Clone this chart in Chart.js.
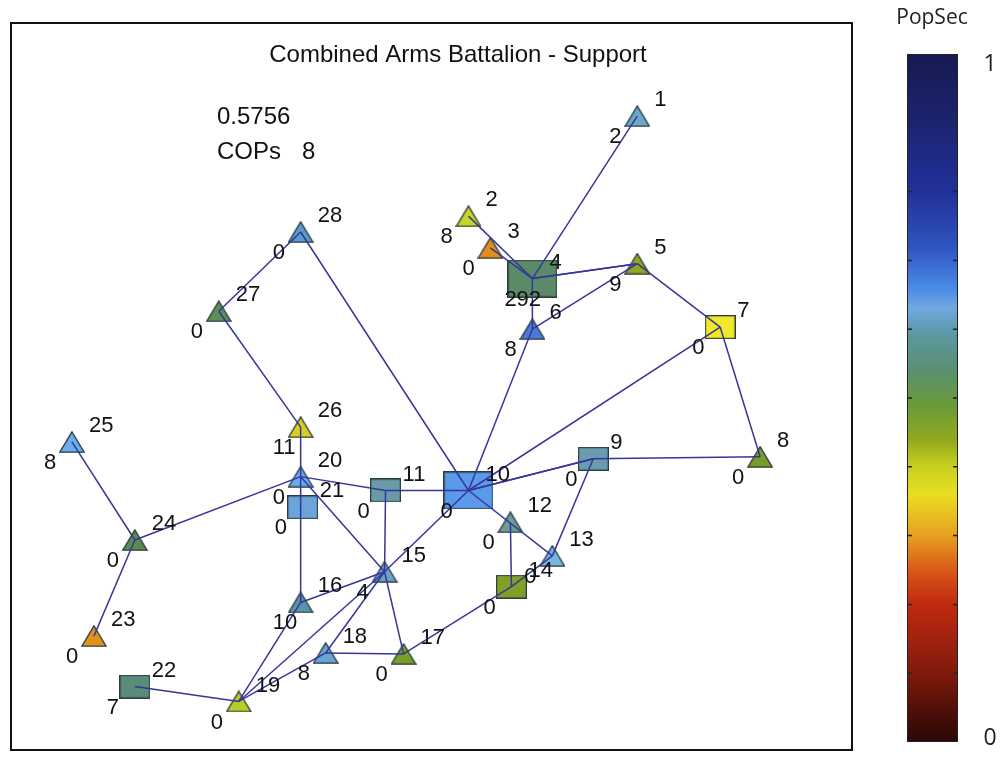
<!DOCTYPE html>
<html>
<head>
<meta charset="utf-8">
<script src="https://cdn.jsdelivr.net/npm/chart.js@4.4.1/dist/chart.umd.min.js"></script>
<style>
  body { margin: 0; background: #fff; }
  canvas { display: block; }
</style>
</head>
<body>
<canvas id="netChart" width="1002" height="761"></canvas>
<script>
// Node data (layout coordinates, y measured downward)
const nodeIds = [1, 2, 3, 4, 5, 6, 7, 8, 9, 10, 11, 12, 13, 14, 15, 16, 17, 18, 19, 20, 21, 22, 23, 24, 25, 26, 27, 28];
const nodeX = [627, 458, 480, 522, 627, 522, 710, 750, 583, 458, 375, 500, 542, 501, 374, 290, 393, 315, 228, 290, 292, 124, 83, 124, 61, 290, 208, 290];
const nodeY = [94, 195, 227, 258, 243, 309, 307, 438, 440, 472, 472, 504, 538, 569, 554, 585, 637, 636, 685, 458, 489, 670, 619, 522, 423, 408, 291, 211];
const nodeKind = ['tri', 'tri', 'tri', 'big', 'tri', 'tri', 'sq', 'tri', 'sq', 'big', 'sq', 'tri', 'tri', 'sq', 'tri', 'tri', 'tri', 'tri', 'tri', 'tri', 'sq', 'sq', 'tri', 'tri', 'tri', 'tri', 'tri', 'tri'];
const nodeSideLabel = ['2', '8', '0', '292', '9', '8', '0', '0', '0', '0', '0', '0', '0', '0', '4', '10', '0', '8', '0', '0', '0', '7', '0', '0', '8', '11', '0', '0'];
const nodeColors = ['#68a8c8', '#c8d428', '#e0901a', '#5a8a68', '#90a820', '#4a78d8', '#f0e828', '#7a9c28', '#6a9cb0', '#5a9ae8',
                    '#6a9aa8', '#6a9c98', '#7ab4e0', '#80a028', '#6aa4c8', '#5a94a8', '#78a028', '#6aa4d0', '#b8cc28', '#6aacf0',
                    '#6aa4d8', '#5a8c78', '#e09420', '#5a8c50', '#6aacec', '#d8d020', '#5a9058', '#5a9ccc'];

// Links between nodes (by id)
const edges = [[1, 4], [2, 4], [3, 4], [4, 5], [4, 5], [4, 6], [6, 5], [5, 7], [7, 10], [7, 8], [6, 10], [28, 10],
               [27, 28], [27, 26], [26, 20], [20, 16], [20, 11], [20, 15], [20, 24], [24, 25], [24, 23], [11, 10],
               [11, 15], [10, 15], [10, 9], [10, 9], [10, 13], [9, 8], [9, 13], [12, 14], [13, 14], [14, 17],
               [15, 16], [15, 17], [15, 19], [15, 18], [16, 19], [18, 19], [18, 17], [19, 22]];

// Colour scale (PopSec)
const cbStops = [0.0, 0.04, 0.1, 0.2, 0.25, 0.3, 0.36, 0.4, 0.44, 0.49, 0.54, 0.59, 0.63, 0.66, 0.72, 0.8, 0.9, 1.0];
const cbColors = ['#2a0806', '#4a0e08', '#801a0c', '#c02a10', '#d85818', '#e8a020', '#e8de22', '#c8d020', '#90a820', '#6a9a38',
                  '#5a9070', '#5a98a0', '#70a8e0', '#4a8ae8', '#2e54be', '#22309a', '#1c2470', '#161a50'];
const cbTicks = [0.1, 0.2, 0.3, 0.4, 0.5, 0.6, 0.7, 0.8, 0.9];

const title = 'Combined Arms Battalion - Support';
const scoreText = '0.5756';
const copsCount = 8;

// Marker shapes drawn into small canvases
const markerSize = { tri: [26, 22], sq: [31, 24], big: [50, 38] };

function makeMarker(kind, color) {
    const [w, h] = markerSize[kind];
    const c = document.createElement('canvas');
    c.width = w;
    c.height = h;
    const g = c.getContext('2d');
    g.fillStyle = color;
    g.strokeStyle = '#2e3b3b';
    g.lineWidth = 1.3;
    g.beginPath();
    if (kind === 'tri') {
        g.moveTo(w / 2, 0.8);
        g.lineTo(w - 0.8, h - 0.8);
        g.lineTo(0.8, h - 0.8);
        g.closePath();
    } else {
        g.rect(0.6, 0.6, w - 1.2, h - 1.2);
    }
    g.fill();
    g.stroke();
    return c;
}

const nodePoints = nodeIds.map((id, i) => ({ x: nodeX[i], y: nodeY[i] }));
const nodeStyles = nodeIds.map((id, i) => makeMarker(nodeKind[i], nodeColors[i]));

const edgeSets = edges.map(([a, b]) => ({
    type: 'scatter',
    data: [nodePoints[nodeIds.indexOf(a)], nodePoints[nodeIds.indexOf(b)]],
    showLine: true,
    borderColor: '#36369a',
    borderWidth: 1.5,
    pointRadius: 0,
    order: 0
}));

// Texts, frame and colour bar
const decorPlugin = {
    id: 'decor',
    afterDraw(chart) {
        const ctx = chart.ctx;
        const area = chart.chartArea;
        const xs = chart.scales.x;
        const ys = chart.scales.y;
        ctx.save();

        // frame
        ctx.strokeStyle = '#111';
        ctx.lineWidth = 2;
        ctx.strokeRect(area.left, area.top, area.right - area.left, area.bottom - area.top);

        ctx.fillStyle = '#111';
        ctx.textBaseline = 'middle';
        ctx.font = '24px "Liberation Sans", Arial, sans-serif';
        ctx.textAlign = 'center';
        ctx.fillText(title, 458, 55);
        ctx.textAlign = 'left';
        ctx.fillText(scoreText, 217, 117);
        ctx.fillText('COPs', 217, 152);
        ctx.fillText(String(copsCount), 302, 152);

        // node labels
        ctx.font = '22px "Liberation Sans", Arial, sans-serif';
        nodeIds.forEach((id, i) => {
            const px = xs.getPixelForValue(nodeX[i]);
            const py = ys.getPixelForValue(nodeY[i]);
            ctx.fillText(String(id), px + 17, py - 16);
            ctx.fillText(nodeSideLabel[i], px - 28, py + 21);
        });

        // colour bar
        const cb = { left: 907, right: 958, top: 54, bottom: 742 };
        const grad = ctx.createLinearGradient(0, cb.bottom, 0, cb.top);
        cbStops.forEach((s, i) => grad.addColorStop(s, cbColors[i]));
        ctx.fillStyle = grad;
        ctx.fillRect(cb.left, cb.top, cb.right - cb.left, cb.bottom - cb.top);
        ctx.strokeStyle = '#222';
        ctx.lineWidth = 1;
        ctx.strokeRect(cb.left + 0.5, cb.top + 0.5, cb.right - cb.left - 1, cb.bottom - cb.top - 1);
        ctx.lineWidth = 1.5;
        cbTicks.forEach(t => {
            const y = cb.bottom - t * (cb.bottom - cb.top);
            ctx.beginPath();
            ctx.moveTo(cb.left, y);
            ctx.lineTo(cb.left + 5, y);
            ctx.moveTo(cb.right, y);
            ctx.lineTo(cb.right - 5, y);
            ctx.stroke();
        });

        ctx.fillStyle = '#222';
        ctx.font = '21px "Open Sans", sans-serif';
        ctx.textAlign = 'center';
        ctx.fillText('PopSec', 932, 18);
        ctx.font = '23px "Open Sans", sans-serif';
        ctx.fillText('1', 990, 64);
        ctx.fillText('0', 990, 738);
        ctx.restore();
    }
};

new Chart(document.getElementById('netChart'), {
    type: 'scatter',
    data: {
        datasets: [
            ...edgeSets,
            {
                data: nodePoints,
                pointStyle: nodeStyles,
                pointRadius: 10,
                pointHoverRadius: 10,
                order: 1
            }
        ]
    },
    options: {
        responsive: false,
        animation: false,
        events: [],
        layout: { padding: { left: 10, top: 23, right: 150, bottom: 4 } },
        scales: {
            x: { type: 'linear', min: 0, max: 842, display: false },
            y: { type: 'linear', min: 0, max: 734, reverse: true, display: false }
        },
        plugins: {
            legend: { display: false },
            tooltip: { enabled: false }
        }
    },
    plugins: [decorPlugin]
});
</script>
</body>
</html>
